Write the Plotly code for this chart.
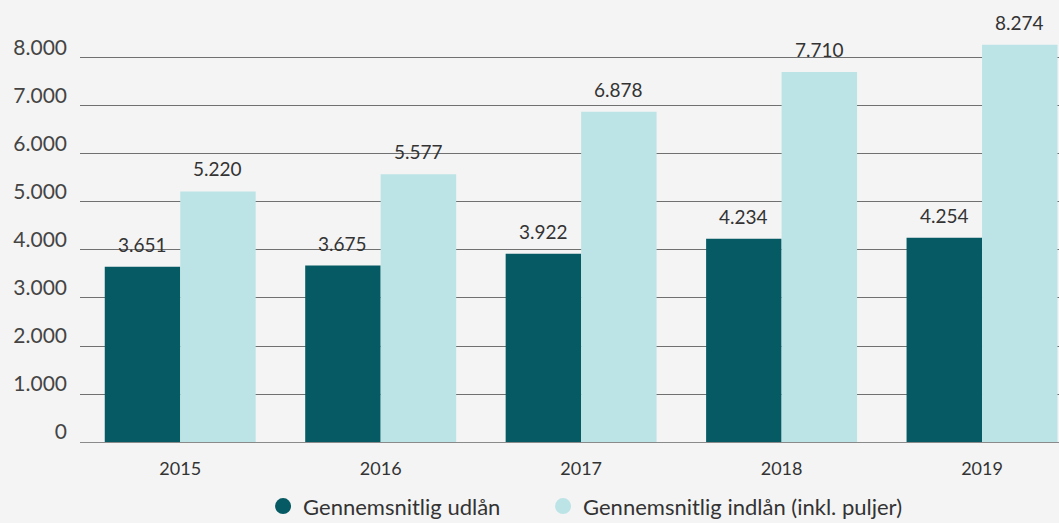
import plotly.graph_objects as go

years = ["2015", "2016", "2017", "2018", "2019"]
udlaan = [3651, 3675, 3922, 4234, 4254]
indlaan = [5220, 5577, 6878, 7710, 8274]
y_ticks = [0, 1000, 2000, 3000, 4000, 5000, 6000, 7000, 8000]
y_tick_text = ["0", "1.000", "2.000", "3.000", "4.000", "5.000", "6.000", "7.000", "8.000"]
names = ["Gennemsnitlig udlån", "Gennemsnitlig indlån (inkl. puljer)"]
colors = ["#055a63", "#bce4e6"]

def fmt(v):
    return f"{v:,}".replace(",", ".")

FONT = "Lato"
fig = go.Figure()
for vals, name, col in zip([udlaan, indlaan], names, colors):
    fig.add_trace(go.Bar(x=years, y=vals, name=name, marker=dict(color=col, line=dict(width=0)),
                         showlegend=False, hoverinfo="skip"))
for name, col, lg in zip(names, colors, ["legend", "legend2"]):
    fig.add_trace(go.Scatter(x=[None], y=[None], mode="markers", name=name, legend=lg,
                             marker=dict(symbol="circle", size=17, color=col)))

annotations = []
bar_px = 75.5
for vals, shift in zip([udlaan, indlaan], [-bar_px / 2, bar_px / 2]):
    for i, v in enumerate(vals):
        annotations.append(dict(x=i, y=v, xref="x", yref="y", text=fmt(v), showarrow=False,
                                xshift=shift, yshift=9, yanchor="bottom", xanchor="center",
                                font=dict(family=FONT, size=19, color="#333333")))

legend_common = dict(orientation="h", yref="container", y=0.032, yanchor="middle", xanchor="left",
                     font=dict(family=FONT, size=22, color="#333333"), bgcolor="rgba(0,0,0,0)",
                     itemwidth=30)

fig.update_layout(
    width=1059, height=523,
    margin=dict(l=80, r=0, t=0, b=81, autoexpand=False),
    paper_bgcolor="#f4f4f4", plot_bgcolor="#f4f4f4",
    barmode="group", bargap=0.247, bargroupgap=0,
    font=dict(family=FONT, color="#333333"),
    hovermode=False,
    xaxis=dict(type="category", range=[-0.5, 4.384], showgrid=False, showline=False, ticks="",
               zeroline=False, ticklabelstandoff=14,
               tickfont=dict(family=FONT, size=18, color="#333333")),
    yaxis=dict(range=[0, 9208], tickvals=y_ticks, ticktext=y_tick_text, showgrid=True,
               gridcolor="#707070", gridwidth=1, zeroline=True, zerolinecolor="#8a8a8a", zerolinewidth=1,
               showline=False, ticks="", ticklabelshift=-10, ticklabelstandoff=12,
               tickfont=dict(family=FONT, size=21, color="#444444")),
    legend=dict(x=0.187, **legend_common),
    legend2=dict(x=0.473, **legend_common),
    annotations=annotations,
)
fig.write_html("out.html", config={"displayModeBar": False},
               post_script="document.body.style.margin='0';document.body.style.background='#f4f4f4';")
